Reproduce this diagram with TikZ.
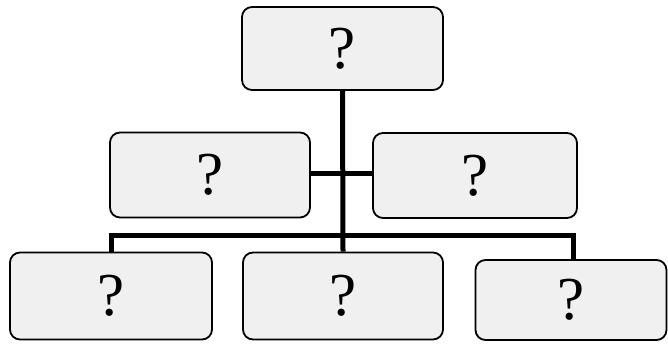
\documentclass[tikz,border=0pt]{standalone}
\usepackage{fontspec}
\setmainfont{Liberation Serif}
\begin{document}
\begin{tikzpicture}[x=1pt,y=-1pt,
  qbox/.style={draw=black, line width=1.8pt, rounded corners=10pt, fill=black!6,
    inner sep=0pt, font=\fontsize{61}{61}\selectfont},
  conn/.style={line width=5pt, line cap=butt}]
\useasboundingbox (0,0) rectangle (668,343);
\node[qbox, minimum width=201pt, minimum height=83pt] (top) at (342.5,48.5) {?};
\node[qbox, minimum width=200pt, minimum height=85pt] (ml) at (210,175) {?};
\node[qbox, minimum width=204pt, minimum height=85pt] (mr) at (475,175.5) {?};
\node[qbox, minimum width=202pt, minimum height=87pt] (bl) at (111,296) {?};
\node[qbox, minimum width=200pt, minimum height=87pt] (bm) at (343,296) {?};
\node[qbox, minimum width=191pt, minimum height=80pt] (br) at (571,300) {?};
\coordinate (busL) at (bl.north |- 0,235);
\coordinate (busR) at (573,235);
\coordinate (brT) at (busR |- br.north);
\draw[conn] (top.south) -- (bm.north);
\draw[conn] (ml.east |- 0,173) -- (mr.west |- 0,173);
\draw[conn] (bl.north) -- (busL) -- (busR) -- (brT);
\end{tikzpicture}
\end{document}
